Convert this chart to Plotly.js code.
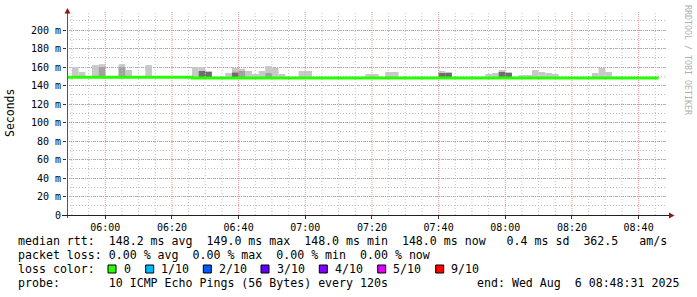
<!DOCTYPE html>
<html><head><meta charset="utf-8">
<script src="https://cdn.plot.ly/plotly-3.0.1.min.js"></script>
<style>html,body{margin:0;padding:0;background:#fff}</style></head>
<body>
<div id="chart" style="width:697px;height:297px"></div>
<script>
// ---------- data ----------
const DAY = '2025-08-06 ';
const rangeStart = '05:48:31';
const rangeEnd = '08:48:31';
// median rtt (ms), step line: value holds from each time to the next
const medianTimes = ['05:48', '06:26', '08:46'];
const medianValues = [149, 148, 148];
// smoke: 2-minute bins (start time), top of the outer (light) smoke in ms
const smokeTimes = ['05:50','05:52','05:56','05:58','06:04','06:06','06:12',
  '06:26','06:28','06:30','06:36','06:38','06:40','06:42','06:44','06:46','06:48','06:50','06:52',
  '06:58','07:00','07:18','07:20','07:24','07:26','07:40','07:42',
  '07:54','07:56','07:58','08:00','08:04','08:06','08:08','08:10','08:12','08:14',
  '08:26','08:28','08:30'];
const smokeOuter = [160,154.6,162,163,163,156.7,162,
  160,160,155.7,153.5,159,158,155.7,152.4,155.7,161,159,152.4,
  155.7,155.7,152.4,152.4,154.6,154.6,155.7,154.6,
  152.4,153.5,156.7,154.6,151.4,151.4,156.7,154.6,153.5,152.4,
  153.5,159,154.6];
// medium smoke layer
const smokeMidTimes = ['05:58','06:04','06:38','06:40','06:48'];
const smokeMid = [160,160,155,155.7,153.5];
// dark (dense) smoke layer
const smokeDarkTimes = ['06:28','06:30','06:38','07:40','07:42','07:58','08:00'];
const smokeDark = [155.7,154.6,153.5,153.5,153.5,154.6,153.5];
const smokeBase = 148;
// y ticks
const yTickVals = [0,20,40,60,80,100,120,140,160,180,200];
const yTickText = ['0','20 m','40 m','60 m','80 m','100 m','120 m','140 m','160 m','180 m','200 m'];
// x grid (major every 20 min with labels, minor every 5 min)
const xMajorTimes = ['06:00','06:20','06:40','07:00','07:20','07:40','08:00','08:20','08:40'];
const xMinorTimes = ['05:50','05:55','06:05','06:10','06:15','06:25','06:30','06:35','06:45','06:50','06:55',
  '07:05','07:10','07:15','07:25','07:30','07:35','07:45','07:50','07:55',
  '08:05','08:10','08:15','08:25','08:30','08:35','08:45'];
// legend
const legendLine1 = 'median rtt:  148.2 ms avg  149.0 ms max  148.0 ms min  148.0 ms now   0.4 ms sd  362.5   am/s';
const legendLine2 = 'packet loss: 0.00 % avg  0.00 % max  0.00 % min  0.00 % now';
const lossLabels = ['0','1/10','2/10','3/10','4/10','5/10','9/10'];
const lossColors = ['#26ff00','#00b8ff','#0059ff','#5e00ff','#7e00ff','#dd00ff','#ff0000'];
const probeText = 'probe:       10 ICMP Echo Pings (56 Bytes) every 120s';
const endText = 'end: Wed Aug  6 08:48:31 2025';
const watermark = 'RRDTOOL / TOBI OETIKER';

// ---------- layout helpers ----------
const L = 67, T = 12, W = 600, H = 203;
const px = x => (x - L) / W;
const py = y => (T + H - y) / H;
const nb = s => s.replace(/ /g, '\u00a0');
const MONO = 'DejaVu Sans Mono';
const full = t => DAY + t;
const BIN = 120000;

function smokeTrace(times, tops, color) {
  return {
    type: 'bar', x: times.map(full), y: tops.map(v => v - smokeBase), base: smokeBase,
    width: BIN, offset: 0, marker: {color: color, line: {width: 0}},
    hoverinfo: 'skip', showlegend: false
  };
}

const annotations = [];
const shapes = [];
const majorGrid = 'rgb(238,145,145)';
const minorGrid = 'rgb(195,195,195)';

// vertical grid lines (dotted) drawn as line traces on the date axis
function gridTrace(times, color, dash) {
  const xs = [], ys = [];
  times.forEach(t => { xs.push(full(t), full(t), null); ys.push(0, 219.5, null); });
  return {type: 'scatter', mode: 'lines', x: xs, y: ys, line: {color: color, width: 1, dash: dash},
    hoverinfo: 'skip', showlegend: false, connectgaps: false};
}

const traces = [
  gridTrace(xMinorTimes, minorGrid, '1px,2px'),
  gridTrace(xMajorTimes, majorGrid, '1px,1px'),
  smokeTrace(smokeTimes, smokeOuter, '#c8c8c8'),
  smokeTrace(smokeMidTimes, smokeMid, '#a2a2a2'),
  smokeTrace(smokeDarkTimes, smokeDark, '#6e6e6e'),
  {type: 'scatter', mode: 'lines', x: medianTimes.map(full), y: medianValues,
   line: {color: '#26ff00', width: 3, shape: 'hv'}, hoverinfo: 'skip', showlegend: false}
];

function txt(x, y, text, size, extra) {
  annotations.push(Object.assign({xref: 'paper', yref: 'paper', x: px(x), y: py(y),
    xanchor: 'left', yanchor: 'middle', showarrow: false, text: nb(text),
    font: {family: MONO, size: size, color: '#000'}}, extra || {}));
}
txt(16, 241, legendLine1, 11.6);
txt(16, 255, legendLine2, 11.6);
txt(16, 269, 'loss color:', 11.6);
const boxX = [108, 145.7, 203.3, 261, 319.3, 377.7, 435.7];
lossLabels.forEach((lab, i) => {
  shapes.push({type: 'rect', xref: 'paper', yref: 'paper', x0: px(boxX[i]), x1: px(boxX[i] + 8),
    y0: py(273), y1: py(265), fillcolor: lossColors[i], line: {color: '#000', width: 1}, layer: 'above'});
  txt(boxX[i] + 13.5, 269, lab, 11.6);
});
txt(16, 283, probeText, 11.6);
txt(681, 283, endText, 11.6, {xanchor: 'right'});
// y axis title
annotations.push({xref: 'paper', yref: 'paper', x: px(10), y: py(113), xanchor: 'center', yanchor: 'middle',
  showarrow: false, text: 'Seconds', textangle: -90, font: {family: MONO, size: 11.5, color: '#000'}});
// watermark
annotations.push({xref: 'paper', yref: 'paper', x: px(688), y: py(60), xanchor: 'center', yanchor: 'middle',
  showarrow: false, text: nb(watermark), textangle: 90, font: {family: MONO, size: 8.3, color: '#b0b0b0'}});

// axis lines and arrows
shapes.push({type: 'line', xref: 'paper', yref: 'paper', x0: px(67.5), x1: px(67.5), y0: py(218), y1: py(12),
  line: {color: '#555', width: 1}, layer: 'above'});
shapes.push({type: 'line', xref: 'paper', yref: 'paper', x0: px(62), x1: px(670), y0: py(215.5), y1: py(215.5),
  line: {color: '#222', width: 1}, layer: 'above'});
shapes.push({type: 'path', xref: 'paper', yref: 'paper', path:
  `M ${px(64.5)} ${py(13.5)} L ${px(70.5)} ${py(13.5)} L ${px(67.5)} ${py(8)} Z`,
  fillcolor: '#8b1a1a', line: {width: 0}, layer: 'above'});
shapes.push({type: 'path', xref: 'paper', yref: 'paper', path:
  `M ${px(669)} ${py(212.5)} L ${px(669)} ${py(218.5)} L ${px(674.5)} ${py(215.5)} Z`,
  fillcolor: '#8b1a1a', line: {width: 0}, layer: 'above'});

const layout = {
  width: 697, height: 297,
  margin: {l: L, r: 697 - L - W, t: T, b: 297 - T - H, pad: 0},
  paper_bgcolor: '#ffffff', plot_bgcolor: '#ffffff',
  barmode: 'overlay', showlegend: false,
  xaxis: {type: 'date', range: [full(rangeStart), full(rangeEnd)], tickformat: '%H:%M',
    tick0: full('06:00'), dtick: 1200000, ticks: 'outside', ticklen: 3, tickcolor: '#333',
    tickfont: {family: MONO, size: 10, color: '#000'}, showgrid: false,
    zeroline: false, showline: false, fixedrange: true},
  yaxis: {range: [0, H / 0.925], tickvals: yTickVals, ticktext: yTickText, ticks: 'outside', ticklen: 3,
    tickcolor: '#333', tickfont: {family: MONO, size: 10, color: '#000'}, showgrid: true,
    gridcolor: 'rgba(240,110,110,0.8)', griddash: '1px,1px', gridwidth: 1, zeroline: false, showline: false, fixedrange: true,
    minor: {dtick: 10, showgrid: true, gridcolor: 'rgba(170,170,170,0.75)', griddash: '1px,2px', gridwidth: 1}},
  annotations: annotations, shapes: shapes
};
Plotly.newPlot('chart', traces, layout, {staticPlot: true, displayModeBar: false});
</script>
</body></html>
